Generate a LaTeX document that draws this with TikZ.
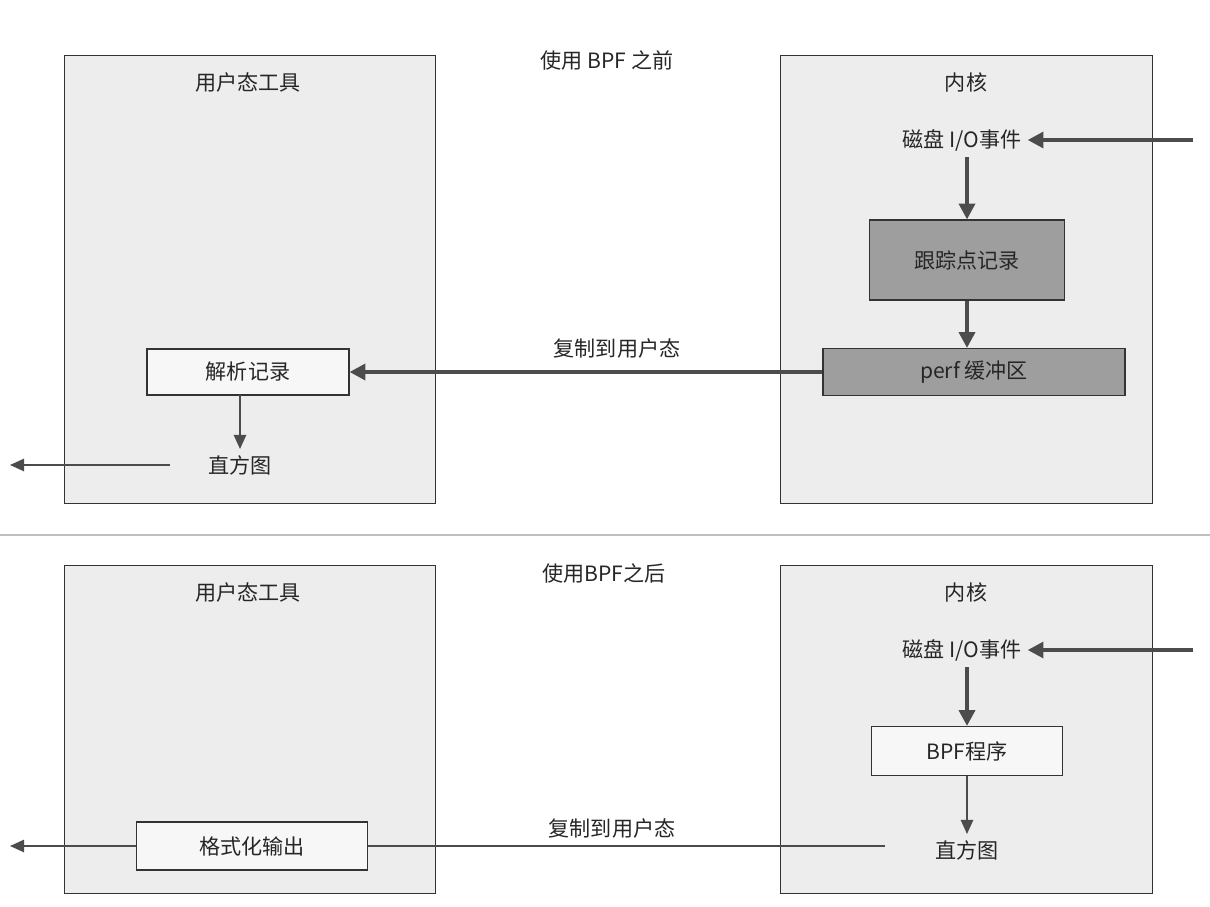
\documentclass[tikz,border=0pt]{standalone}
\usepackage{fontspec}
\setmainfont{Noto Sans CJK SC}
\usetikzlibrary{arrows.meta}
\begin{document}
\begin{tikzpicture}[x=0.02cm,y=-0.02cm,
 panel/.style={draw=black!80,fill=black!7,line width=0.6pt},
 dbox/.style={draw=black!80,fill=black!38,line width=0.6pt},
 wbox/.style={draw=black!80,fill=black!3,line width=0.6pt},
 txt/.style={font=\fontsize{12}{14}\selectfont,text=black!85},
 thick arr/.style={draw=black!70,line width=2.2pt,-{Triangle[length=9pt,width=9pt]}},
 thin arr/.style={draw=black!70,line width=1pt,-{Triangle[length=8pt,width=7pt]}}]
\useasboundingbox[fill=white] (0,0) rectangle (1210,906);
% top
\node[panel,minimum width=371*0.02cm,minimum height=448*0.02cm,anchor=north west] (tl) at (64,55) {};
\node[panel,minimum width=372*0.02cm,minimum height=448*0.02cm,anchor=north west] (tr) at (780,55) {};
\node[txt] (t1) at (607,60) {使用 BPF 之前};
\node[txt] (u1) at (248,82) {用户态工具};
\node[txt] (k1) at (966,82) {内核};
\node[txt] (d1) at (962,140) {磁盘 I/O事件};
\coordinate (i1) at (1193,140);
\draw[thick arr] (i1) -- (d1.east);
\node[dbox,txt,minimum width=195*0.02cm,minimum height=80*0.02cm] (tp) at (967,260) {跟踪点记录};
\draw[thick arr] (d1.south -| tp.north) -- (tp.north);
\node[dbox,txt,minimum width=302*0.02cm,minimum height=47*0.02cm] (pb) at (974,372) {perf 缓冲区};
\draw[thick arr] (tp.south) -- (tp.south |- pb.north);
\node[wbox,txt,minimum width=202*0.02cm,minimum height=46*0.02cm] (pr) at (248,372) {解析记录};
\draw[thick arr] (pb.west) -- (pr.east);
\node[txt] (c1) at (617,348) {复制到用户态};
\node[txt] (h1) at (240,465) {直方图};
\draw[thin arr] (240,395) -- (h1.north);
\coordinate (o1) at (10,465);
\draw[thin arr] (170,465) -- (o1);
% divider
\draw[black!25,line width=0.8pt] (0,535) -- (1210,535);
% bottom
\node[panel,minimum width=371*0.02cm,minimum height=328*0.02cm,anchor=north west] (bl) at (64,565) {};
\node[panel,minimum width=372*0.02cm,minimum height=328*0.02cm,anchor=north west] (br) at (780,565) {};
\node[txt] (t2) at (604,573) {使用BPF之后};
\node[txt] (u2) at (248,592) {用户态工具};
\node[txt] (k2) at (966,592) {内核};
\node[txt] (d2) at (962,650) {磁盘 I/O事件};
\coordinate (i2) at (1193,650);
\draw[thick arr] (i2) -- (d2.east);
\node[wbox,txt,minimum width=191*0.02cm,minimum height=49*0.02cm] (bp) at (967,751) {BPF程序};
\draw[thick arr] (d2.south -| bp.north) -- (bp.north);
\node[txt] (h2) at (967,850) {直方图};
\draw[thin arr] (bp.south) -- (h2.north);
\node[wbox,txt,minimum width=231*0.02cm,minimum height=48*0.02cm] (fo) at (252,846) {格式化输出};
\draw[draw=black!70,line width=0.8pt] (885,846) -- (fo.east);
\node[txt] (c2) at (612,828) {复制到用户态};
\coordinate (o2) at (10,846);
\draw[thin arr] (fo.west) -- (o2);
\end{tikzpicture}
\end{document}
